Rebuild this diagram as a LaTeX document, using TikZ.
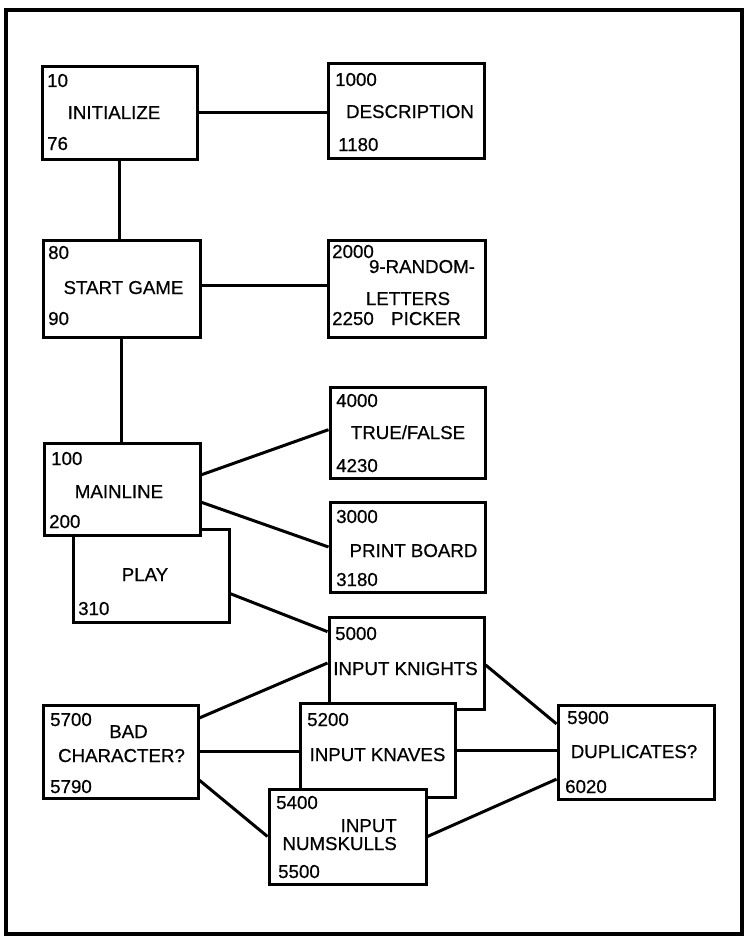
\documentclass[tikz,border=0pt]{standalone}
\usepackage{fontspec}
\setmainfont{Liberation Sans}
\newfontface\scanfont{Liberation Sans}[FakeBold=0.6]
\usetikzlibrary{calc,backgrounds}
\tikzset{
  box/.style={draw=black, fill=white, line width=3pt, inner sep=0pt},
  lbl/.style={font=\scanfont\fontsize{18.7}{20}\selectfont, inner sep=0pt},
  num/.style={lbl, anchor=base west},
  ttl/.style={lbl, anchor=base},
  ttlr/.style={lbl, anchor=base east},
  conn/.style={draw=black, line width=3pt},
  frame/.style={draw=black, line width=4.5pt}
}
\begin{document}
\begin{tikzpicture}[x=1pt,y=-1pt]
\useasboundingbox (0,0) rectangle (747,939);
\draw[frame] (6,10) rectangle (742,934);

% INITIALIZE
\node[box,minimum width=155pt,minimum height=92pt] (init) at (119.5,113) {};
\node[num] (init-a) at (47,87) {10};
\node[ttl] (init-t) at (114,119) {INITIALIZE};
\node[num] (init-b) at (47,150) {76};

% DESCRIPTION
\node[box,minimum width=156pt,minimum height=94pt] (desc) at (406,111) {};
\node[num] (desc-a) at (335,86) {1000};
\node[ttl] (desc-t) at (410,118) {DESCRIPTION};
\node[num] (desc-b) at (338,151) {1180};

% START GAME
\node[box,minimum width=157pt,minimum height=97pt] (start) at (121.5,288.5) {};
\node[num] (start-a) at (48,259) {80};
\node[ttl] (start-t) at (123.5,294) {START GAME};
\node[num] (start-b) at (48,325) {90};

% 9-RANDOM-LETTERS PICKER
\node[box,minimum width=157pt,minimum height=97pt] (rand) at (406.5,288.5) {};
\node[num] (rand-a) at (332,258) {2000};
\node[ttl] (rand-t1) at (422,273) {9-RANDOM-};
\node[ttl] (rand-t2) at (408,305) {LETTERS};
\node[ttl] (rand-t3) at (426,325) {PICKER};
\node[num] (rand-b) at (332,325) {2250};

% PLAY (behind MAINLINE)
\node[box,minimum width=156pt,minimum height=93pt] (play) at (151,575.5) {};
\node[ttl] (play-t) at (145,581) {PLAY};
\node[num] (play-b) at (78,615) {310};

% MAINLINE
\node[box,minimum width=156pt,minimum height=92pt] (main) at (122,489) {};
\node[num] (main-a) at (51,465) {100};
\node[ttl] (main-t) at (119,498) {MAINLINE};
\node[num] (main-b) at (49,528) {200};

% TRUE/FALSE
\node[box,minimum width=155pt,minimum height=91pt] (tf) at (407.5,432.5) {};
\node[num] (tf-a) at (336,407) {4000};
\node[ttl] (tf-t) at (408,439) {TRUE/FALSE};
\node[num] (tf-b) at (336,472) {4230};

% PRINT BOARD
\node[box,minimum width=155pt,minimum height=90pt] (pb) at (407.5,547) {};
\node[num] (pb-a) at (336,523) {3000};
\node[ttl] (pb-t) at (413.5,557) {PRINT BOARD};
\node[num] (pb-b) at (336,586) {3180};

% BAD CHARACTER?
\node[box,minimum width=155pt,minimum height=93pt] (bad) at (120.5,751.5) {};
\node[num] (bad-a) at (50,726) {5700};
\node[ttl] (bad-t1) at (128.5,738) {BAD};
\node[ttl] (bad-t2) at (121.5,762) {CHARACTER?};
\node[num] (bad-b) at (50,793) {5790};

% DUPLICATES?
\node[box,minimum width=156pt,minimum height=94pt] (dup) at (636,752) {};
\node[num] (dup-a) at (567,724) {5900};
\node[ttl] (dup-t) at (634,758) {DUPLICATES?};
\node[num] (dup-b) at (565,793) {6020};

% INPUT KNIGHTS
\node[box,minimum width=155pt,minimum height=92pt] (kn) at (406.5,663) {};
\node[num] (kn-a) at (335,640) {5000};
\node[ttl] (kn-t) at (405.5,675) {INPUT KNIGHTS};

% INPUT KNAVES
\node[box,minimum width=155pt,minimum height=94pt] (kv) at (377.5,750) {};
\node[num] (kv-a) at (307,726) {5200};
\node[ttl] (kv-t) at (377.5,761) {INPUT KNAVES};

% INPUT NUMSKULLS
\node[box,minimum width=157pt,minimum height=95pt] (ns) at (347.5,836.5) {};
\node[num] (ns-a) at (276,809) {5400};
\node[ttlr] (ns-t1) at (397,832) {INPUT};
\node[ttlr] (ns-t2) at (397,850) {NUMSKULLS};
\node[num] (ns-b) at (278,878) {5500};

\begin{pgfonlayer}{background}
\draw[conn] (init.east) -- (init.east -| desc.west);
\draw[conn] (init.south) -- (init.south |- start.north);
\draw[conn] ($(start.north east)!0.47!(start.south east)$) -- ($(rand.north west)!0.47!(rand.south west)$);
\draw[conn] (start.south) -- (start.south |- main.north);
\draw[conn] ($(main.north east)!0.35!(main.south east)$) -- ($(tf.north west)!0.47!(tf.south west)$);
\draw[conn] ($(main.north east)!0.64!(main.south east)$) -- (pb.west);
\draw[conn] ($(play.north east)!0.69!(play.south east)$) -- ($(kn.north west)!0.17!(kn.south west)$);
\draw[conn] ($(bad.north east)!0.15!(bad.south east)$) -- (kn.west);
\draw[conn] (bad.east) -- (bad.east -| kv.west);
\draw[conn] ($(bad.north east)!0.8!(bad.south east)$) -- (ns.west);
\draw[conn] ($(kn.north east)!0.52!(kn.south east)$) -- ($(dup.north west)!0.21!(dup.south west)$);
\draw[conn] (kv.east) -- (kv.east -| dup.west);
\draw[conn] (ns.east) -- ($(dup.north west)!0.78!(dup.south west)$);
\end{pgfonlayer}
\end{tikzpicture}
\end{document}
